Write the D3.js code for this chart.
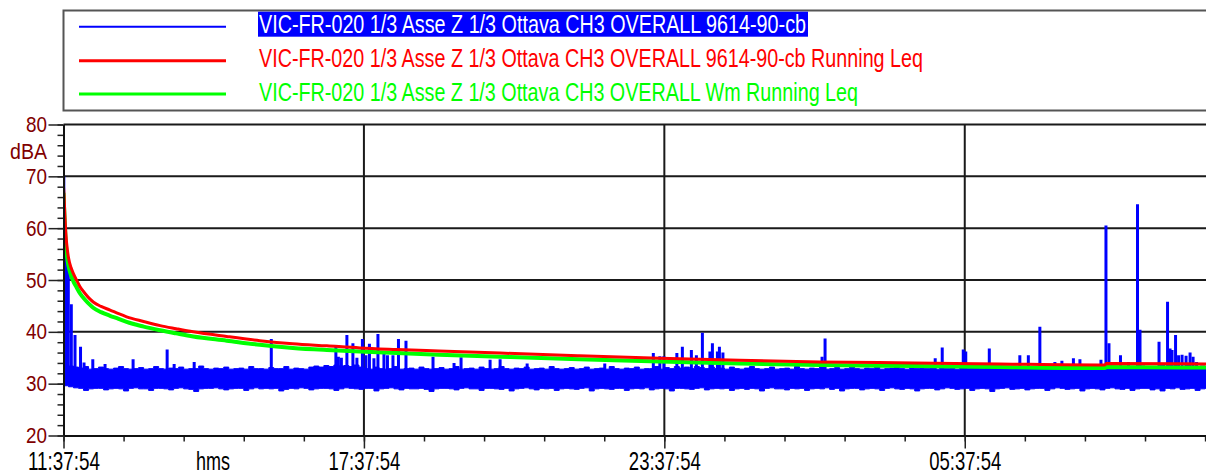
<!DOCTYPE html>
<html>
<head>
<meta charset="utf-8">
<script src="https://cdn.jsdelivr.net/npm/d3@7"></script>
<style>
  html, body { margin: 0; padding: 0; background: #fff; }
  svg { display: block; }
</style>
</head>
<body>
<svg id="chart" width="1206" height="474"></svg>
<script>
// ---- data -------------------------------------------------------------
const seriesNames = [
  "VIC-FR-020 1/3 Asse Z 1/3 Ottava CH3 OVERALL 9614-90-cb",
  "VIC-FR-020 1/3 Asse Z 1/3 Ottava CH3 OVERALL 9614-90-cb Running Leq",
  "VIC-FR-020 1/3 Asse Z 1/3 Ottava CH3 OVERALL Wm Running Leq"
];
const seriesColors = ["#0000ff", "#ff0000", "#00ff00"];

const yTicks = [20, 30, 40, 50, 60, 70, 80];
const yUnit = "dBA";
const xTickHours = [0, 6, 12, 18];
const xTickLabels = ["11:37:54", "17:37:54", "23:37:54", "05:37:54"];
const xUnit = "hms";

// Measured level: lower / upper envelope of the noise floor, one value per 0.1 h
const levelStepHours = 0.1;
const levelLow = [
  29.6,29.4,29.2,29.1,28.7,29.0,29.1,29.1,28.8,29.0,
  29.1,29.0,28.6,29.1,29.2,29.0,29.0,28.7,29.1,29.1,
  29.0,28.8,29.1,29.2,29.0,28.9,28.5,29.0,29.1,29.1,
  29.2,29.0,28.8,29.0,29.1,29.1,28.7,29.0,29.2,29.0,
  29.1,29.0,29.1,28.6,28.9,29.1,29.0,29.2,29.1,28.8,
  29.0,29.1,29.1,29.0,28.7,29.0,29.2,29.1,29.0,28.9,
  29.1,29.1,28.6,29.0,29.1,29.2,29.0,28.8,29.1,29.0,
  29.0,29.1,28.9,28.5,29.0,29.1,29.1,29.0,28.8,29.1,
  29.2,29.0,29.0,28.7,29.1,29.1,29.0,28.9,29.1,28.6,
  29.0,29.1,29.2,29.0,28.8,29.1,29.0,29.1,28.7,29.0,
  29.1,29.0,28.9,29.1,29.2,28.6,29.0,29.1,29.0,28.9,
  29.1,29.1,28.7,29.0,29.1,29.0,29.2,28.8,29.0,29.1,
  29.0,28.6,29.1,29.1,29.0,28.9,29.1,29.2,28.8,29.0,
  29.1,29.0,29.1,28.7,29.0,29.1,28.9,29.1,29.0,28.6,
  29.1,29.2,29.0,29.0,28.8,29.1,29.0,29.1,28.7,29.0,
  29.1,29.0,29.2,28.9,29.1,28.6,29.0,29.1,29.1,28.8,
  29.0,29.1,29.0,28.7,29.1,29.2,29.0,28.9,29.1,29.0,
  28.6,29.0,29.1,29.1,28.8,29.0,29.2,29.1,28.9,29.0,
  29.1,28.7,29.0,29.1,29.0,28.5,29.0,29.1,29.2,28.9,
  29.0,29.1,28.8,29.0,29.1,29.1,28.7,29.0,29.2,29.1,
  28.9,29.0,29.1,28.6,29.0,29.1,29.0,28.8,29.1,29.2,
  29.0,28.9,29.1,28.7,29.0,29.1,29.1,28.8,29.0,28.6,
  29.1,29.0,29.2,28.9,29.0,29.1,28.7,29.0,29.1,29.0,
  29.0
];
const levelHigh = [
  33.6,33.4,33.2,33.0,33.3,32.8,32.9,33.2,32.9,32.8,
  33.0,33.3,32.9,32.8,32.9,33.1,32.8,32.9,33.3,32.9,
  32.8,33.0,32.9,33.2,32.8,32.9,32.9,33.4,32.9,32.8,
  33.0,32.9,33.2,32.8,32.9,33.0,32.8,33.3,32.9,32.9,
  32.8,33.1,32.9,32.9,33.3,32.8,33.0,32.9,32.8,33.2,
  33.4,33.2,33.5,33.3,33.6,33.4,33.5,33.3,33.6,33.2,
  32.9,32.8,33.2,32.9,32.8,32.9,33.3,32.8,32.9,33.0,
  32.8,33.2,32.9,32.8,32.9,33.1,32.8,32.9,33.3,32.8,
  32.9,33.0,32.8,33.2,32.9,32.8,32.9,33.3,32.9,32.8,
  33.0,32.9,33.2,32.8,32.9,33.0,32.8,33.3,32.9,32.8,
  32.9,33.1,32.8,32.9,33.2,32.8,32.9,33.0,32.8,33.3,
  32.9,32.8,33.0,32.9,33.2,32.8,32.9,32.9,33.3,32.8,
  33.1,32.9,33.3,33.0,33.2,32.9,33.3,33.1,32.9,33.2,
  32.9,33.0,32.8,33.2,32.9,32.8,33.0,33.3,32.9,32.8,
  32.9,33.2,32.8,32.9,33.0,32.8,33.3,32.9,32.8,33.0,
  32.9,33.2,32.8,32.9,33.1,32.8,32.9,33.3,32.9,32.8,
  33.0,32.9,33.2,32.8,32.9,33.0,33.3,32.9,32.8,33.1,
  32.9,33.2,32.9,33.0,32.8,33.3,32.9,33.0,32.8,33.2,
  32.9,33.0,33.3,32.9,33.1,32.9,33.0,33.2,32.9,33.0,
  33.1,32.9,33.3,33.0,33.1,32.9,33.2,33.3,33.0,33.1,
  33.0,33.2,33.3,33.0,33.1,33.4,33.1,33.0,33.3,33.1,
  33.3,33.1,33.0,33.3,33.1,33.4,33.2,33.0,33.3,33.5,
  33.2,33.4,33.1,33.3,33.5,33.2,33.3,33.4,33.1,33.3,
  33.2
];

// Measured level: short events rising above the noise floor (hours from start, dB)
const spikeHours = [
  0.006,0.03,0.06,0.096,0.156,0.23,0.34,0.41,0.585,0.83,
  1.39,2.07,2.21,2.61,4.15,5.44,5.49,5.55,5.66,5.78,
  5.86,5.97,6.04,6.11,6.20,6.28,6.40,6.47,6.58,6.69,
  6.84,7.38,7.80,7.94,8.52,8.72,9.26,10.81,11.78,11.91,
  11.99,12.25,12.36,12.54,12.64,12.76,12.91,12.96,13.06,13.10,
  13.17,15.15,15.21,17.41,17.55,17.97,18.02,18.49,19.10,19.27,
  19.50,19.80,19.94,20.17,20.30,20.72,20.82,20.88,21.11,21.27,
  21.45,21.50,21.88,22.05,22.10,22.14,22.21,22.27,22.34,22.42,
  22.50,22.56,22.63
];
const spikeLevels = [
  70.0,57.0,55.8,52.3,45.3,39.4,37.1,34.1,34.7,33.8,
  34.7,36.6,33.8,34.2,38.6,37.1,35.2,35.0,39.4,37.8,
  35.0,38.6,35.5,37.7,34.9,39.6,35.7,35.5,35.5,38.6,
  38.3,35.2,34.0,35.1,34.6,34.7,33.9,33.9,35.9,35.3,
  35.3,35.9,37.1,36.5,35.5,39.8,36.2,37.8,36.2,37.1,
  36.0,35.2,38.7,34.9,37.0,36.6,36.2,36.8,35.5,35.5,
  41.0,34.2,34.4,34.9,34.7,34.6,60.5,37.8,35.5,34.2,
  64.6,40.4,38.1,45.8,36.8,36.5,39.4,35.5,35.6,35.4,
  36.0,35.2,34.2
];

// Running Leq curves (hours from start, dB)
const runHours = [
  0, 0.01, 0.03, 0.05, 0.075, 0.1, 0.15, 0.2, 0.26, 0.33,
  0.43, 0.53, 0.6, 0.75, 0.93, 1.1, 1.26, 1.6, 1.93, 2.25,
  2.59, 3.26, 3.92, 4.58, 5.26, 5.92, 6.65, 7.5, 8.72, 10.3,
  11.91, 13.5, 15.1, 17.0, 18.7, 20.8, 20.83, 22.9
];
const runLeq = [
  68.0, 66.5, 62.0, 58.5, 56.0, 54.3, 52.4, 51.2, 50.0, 48.7,
  47.4, 46.3, 45.7, 44.9, 44.2, 43.5, 42.9, 42.0, 41.2, 40.6,
  40.0, 39.1, 38.3, 37.7, 37.3, 36.9, 36.6, 36.3, 35.9, 35.4,
  34.9, 34.5, 34.2, 34.0, 33.8, 33.6, 33.9, 33.8
];
const runLeqWm = [
  66.8, 64.3, 60.0, 56.6, 54.2, 52.7, 50.9, 49.7, 48.6, 47.4,
  46.2, 45.2, 44.6, 43.8, 43.1, 42.5, 41.9, 41.0, 40.3, 39.7,
  39.1, 38.3, 37.5, 36.9, 36.5, 36.2, 35.9, 35.6, 35.2, 34.7,
  34.3, 33.9, 33.6, 33.4, 33.2, 33.0, 33.2, 33.1
];

// ---- layout -----------------------------------------------------------
const W = 1206, H = 474;
const plotLeft = 63.5, plotTop = 124.5, plotBottom = 435.5;
const pxPerHour = 50.07;
const narrow = "'Liberation Sans Narrow', 'Liberation Sans', Arial, sans-serif";

const x = d3.scaleLinear().domain([0, 23]).range([plotLeft, plotLeft + 23 * pxPerHour]);
const y = d3.scaleLinear().domain([20, 80]).range([plotBottom, plotTop]);

const svg = d3.select("#chart");

svg.append("defs").append("clipPath").attr("id", "plot-clip")
  .append("rect")
  .attr("x", plotLeft).attr("y", plotTop)
  .attr("width", W - plotLeft + 20).attr("height", plotBottom - plotTop);

// ---- legend -----------------------------------------------------------
const legend = svg.append("g");
legend.append("rect")
  .attr("x", 63.5).attr("y", 10.5)
  .attr("width", 1200).attr("height", 100)
  .attr("fill", "none").attr("stroke", "#555").attr("stroke-width", 2);

const legendRowY = [26.7, 60.7, 94];
const legendTextLen = [547, 664, 599];
const legendLineWidth = [2, 3, 3];
seriesNames.forEach((name, i) => {
  const row = legend.append("g");
  row.append("line")
    .attr("x1", 79).attr("x2", 226)
    .attr("y1", legendRowY[i]).attr("y2", legendRowY[i])
    .attr("stroke", seriesColors[i]).attr("stroke-width", legendLineWidth[i]);
  if (i === 0) {
    row.append("rect")
      .attr("x", 258).attr("y", 11.7)
      .attr("width", 550).attr("height", 25)
      .attr("fill", "#0000ff");
  }
  row.append("text")
    .attr("x", 259).attr("y", legendRowY[i] + 6.5)
    .attr("font-family", narrow).attr("font-size", 25)
    .attr("textLength", legendTextLen[i]).attr("lengthAdjust", "spacingAndGlyphs")
    .attr("fill", i === 0 ? "#ffffff" : seriesColors[i])
    .text(name);
});

// ---- grid -------------------------------------------------------------
const grid = svg.append("g");
grid.selectAll("line.hgrid")
  .data(yTicks.filter(v => v > 20 && v < 80))
  .join("line").attr("class", "hgrid")
  .attr("x1", plotLeft).attr("x2", W + 10)
  .attr("y1", d => y(d)).attr("y2", d => y(d))
  .attr("stroke", "#1a1a1a").attr("stroke-width", 2);
grid.selectAll("line.vgrid")
  .data(xTickHours.slice(1))
  .join("line").attr("class", "vgrid")
  .attr("x1", d => x(d)).attr("x2", d => x(d))
  .attr("y1", plotTop).attr("y2", plotBottom)
  .attr("stroke", "#1a1a1a").attr("stroke-width", 2);

// ---- series -----------------------------------------------------------
const plot = svg.append("g").attr("clip-path", "url(#plot-clip)");

// noise floor as a filled band between its lower and upper envelope
const band = levelLow.map((lo, i) => ({ h: i * levelStepHours, lo, hi: levelHigh[i] }));
plot.append("path")
  .datum(band)
  .attr("d", d3.area().curve(d3.curveStepAfter)
    .x(d => x(d.h)).y0(d => y(d.lo)).y1(d => y(d.hi)))
  .attr("fill", seriesColors[0])
  .attr("stroke", seriesColors[0]).attr("stroke-width", 1);

// individual events
const spikes = spikeHours.map((h, i) => ({ h, v: spikeLevels[i] }));
plot.selectAll("line.spike")
  .data(spikes)
  .join("line").attr("class", "spike")
  .attr("x1", d => x(d.h)).attr("x2", d => x(d.h))
  .attr("y1", y(31)).attr("y2", d => y(d.v))
  .attr("stroke", seriesColors[0]).attr("stroke-width", 3);

const runLine = vals => d3.line()
  .x(h => x(h))
  .y((h, i) => y(vals[i]))
  .curve(d3.curveMonotoneX)(runHours);

plot.append("path")
  .attr("d", runLine(runLeqWm))
  .attr("fill", "none").attr("stroke", seriesColors[2]).attr("stroke-width", 4);
plot.append("path")
  .attr("d", runLine(runLeq))
  .attr("fill", "none").attr("stroke", seriesColors[1]).attr("stroke-width", 3);

// ---- frame & axes -----------------------------------------------------
svg.append("line")
  .attr("x1", plotLeft).attr("x2", W + 10)
  .attr("y1", plotTop).attr("y2", plotTop)
  .attr("stroke", "#1a1a1a").attr("stroke-width", 2);

// y axis: minor ticks every 2 dB, major labelled every 10 dB
const yMinor = svg.append("g").attr("transform", `translate(${plotLeft},0)`)
  .call(d3.axisLeft(y).tickValues(d3.range(20, 81, 2)).tickSize(6).tickFormat(""));
yMinor.select(".domain").remove();
yMinor.selectAll("line").attr("stroke", "#222").attr("stroke-width", 1.5);

const yAxis = svg.append("g").attr("transform", `translate(${plotLeft},0)`)
  .call(d3.axisLeft(y).tickValues(yTicks).tickSize(15).tickPadding(1.5).tickSizeOuter(0));
yAxis.select(".domain").attr("stroke", "#111").attr("stroke-width", 2);
yAxis.selectAll("line").attr("stroke", "#222").attr("stroke-width", 1.5);
yAxis.selectAll("text")
  .attr("font-family", narrow).attr("font-size", 22)
  .attr("fill", "#800000")
  .attr("textLength", 21).attr("lengthAdjust", "spacingAndGlyphs");

svg.append("text")
  .attr("x", 47).attr("y", 159)
  .attr("text-anchor", "end")
  .attr("font-family", narrow).attr("font-size", 22)
  .attr("fill", "#800000")
  .attr("textLength", 37).attr("lengthAdjust", "spacingAndGlyphs")
  .text(yUnit);

// x axis: minor ticks every 72 min, major labelled every 6 h
const xMinor = svg.append("g").attr("transform", `translate(0,${plotBottom})`)
  .call(d3.axisBottom(x).tickValues(d3.range(0, 23, 1.2)).tickSize(6).tickFormat(""));
xMinor.select(".domain").remove();
xMinor.selectAll("line").attr("stroke", "#222").attr("stroke-width", 1.5);

const xAxis = svg.append("g").attr("transform", `translate(0,${plotBottom})`)
  .call(d3.axisBottom(x).tickValues(xTickHours).tickSize(13).tickPadding(3.5)
    .tickSizeOuter(0).tickFormat((d, i) => xTickLabels[i]));
xAxis.select(".domain").attr("stroke", "#111").attr("stroke-width", 2);
xAxis.selectAll("line").attr("stroke", "#222").attr("stroke-width", 1.5);
xAxis.selectAll("text")
  .attr("font-family", narrow).attr("font-size", 25)
  .attr("fill", "#000")
  .attr("textLength", 72).attr("lengthAdjust", "spacingAndGlyphs");

svg.append("text")
  .attr("x", 213).attr("y", 470)
  .attr("text-anchor", "middle")
  .attr("font-family", narrow).attr("font-size", 25)
  .attr("fill", "#000")
  .attr("textLength", 34).attr("lengthAdjust", "spacingAndGlyphs")
  .text(xUnit);
</script>
</body>
</html>
